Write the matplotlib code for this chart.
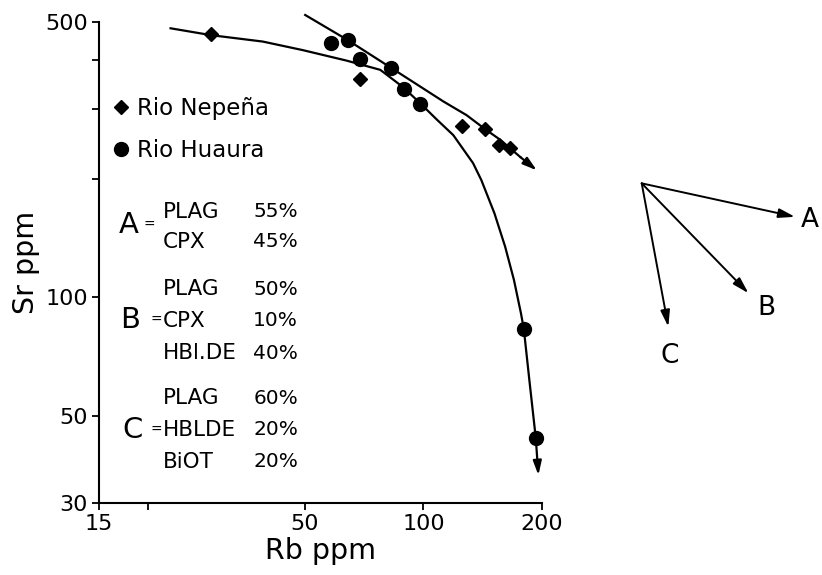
import matplotlib
matplotlib.use('Agg')
import matplotlib.pyplot as plt
from matplotlib.lines import Line2D

plt.rcParams['font.family'] = ['DejaVu Sans']

# Rio Nepeña (diamonds)
nepena_rb = [28.8, 69.0, 125.1, 143.6, 155.7, 165.5]
nepena_sr = [466, 358, 272, 267, 244, 239]

# Rio Huaura (circles)
huaura_rb = [58.2, 64.2, 69.1, 82.6, 89.4, 98.1, 179.9, 192.9]
huaura_sr = [441, 450, 403, 383, 338, 309, 83.0, 43.9]

# curved trend (flat at left, bending down to the arrow at the bottom)
curve1_rb = [22.8, 28.9, 39.1, 49.5, 63.8, 77.7, 89.0, 98.1, 108.0, 119.1,
             133.7, 140.3, 151.5, 161.3, 169.8, 176.9, 179.9, 185.8, 192.9, 195.9]
curve1_sr = [482, 463, 446, 424, 399, 378, 341, 311, 283, 258,
             219, 198.4, 163.3, 134.3, 110.6, 91.0, 83.0, 61.6, 43.9, 35.3]

# nearly straight trend through the Nepeña samples
curve2_rb = [50.1, 64.2, 82.6, 112.5, 128.7, 143.6, 156.8, 176.2, 194.1]
curve2_sr = [521, 450, 383, 314, 290, 267, 251, 227, 210]

xticks = [15, 20, 50, 100, 200]
xticklabels = ['15', '', '50', '100', '200']
yticks = [30, 50, 100, 200, 300, 400, 500]
yticklabels = ['30', '50', '100', '', '', '', '500']

# mineral assemblages
assemblages = {
    'A': [('PLAG', '55%'), ('CPX', '45%')],
    'B': [('PLAG', '50%'), ('CPX', '10%'), ('HBl.DE', '40%')],
    'C': [('PLAG', '60%'), ('HBLDE', '20%'), ('BiOT', '20%')],
}

# vector diagram (decades of log Rb / log Sr)
vec_names = ['A', 'B', 'C']
vec_drb = [0.392, 0.273, 0.068]
vec_dsr = [-0.085, -0.279, -0.364]
vec_label_off = [(11, -2), (13, -11), (1, -21)]

fig = plt.figure(figsize=(8.22, 5.75), dpi=100)
ax = fig.add_axes([0.1204, 0.1252, 0.5389, 0.8365])
ax.set_xscale('log')
ax.set_yscale('log')
ax.set_xlim(15, 200)
ax.set_ylim(30, 500)

lw = 1.6
arrow = dict(arrowstyle='-|>,head_length=0.6,head_width=0.18', color='black',
             lw=lw, shrinkA=0, shrinkB=0, mutation_scale=14)
ax.plot(curve1_rb[:-1], curve1_sr[:-1], color='black', lw=lw, clip_on=False,
        solid_joinstyle='round')
ax.annotate('', xy=(curve1_rb[-1], curve1_sr[-1]), xytext=(curve1_rb[-2], curve1_sr[-2]),
            arrowprops=arrow, annotation_clip=False)
ax.plot(curve2_rb[:-1], curve2_sr[:-1], color='black', lw=lw, clip_on=False,
        solid_joinstyle='round')
ax.annotate('', xy=(curve2_rb[-1], curve2_sr[-1]), xytext=(curve2_rb[-2], curve2_sr[-2]),
            arrowprops=arrow, annotation_clip=False)

ax.plot(nepena_rb, nepena_sr, 'D', color='black', ms=7.5, clip_on=False)
ax.plot(huaura_rb, huaura_sr, 'o', color='black', ms=10, clip_on=False)

ax.set_xticks(xticks)
ax.set_xticklabels(xticklabels)
ax.set_yticks(yticks)
ax.set_yticklabels(yticklabels)
ax.minorticks_off()
ax.tick_params(direction='out', length=5, width=1.3, labelsize=16, pad=3)
for s in ['top', 'right']:
    ax.spines[s].set_visible(False)
for s in ['left', 'bottom']:
    ax.spines[s].set_linewidth(1.5)

ax.set_xlabel('Rb ppm', fontsize=20.5, labelpad=2)
ax.set_ylabel('Sr ppm', fontsize=20.5, labelpad=4)

handles = [Line2D([], [], marker='D', color='black', ls='none', ms=7.5),
           Line2D([], [], marker='o', color='black', ls='none', ms=10)]
ax.legend(handles, ['Rio Nepeña', 'Rio Huaura'], loc='upper left',
          bbox_to_anchor=(0.031, 0.845), frameon=False, fontsize=16.5,
          handlelength=0.75, handletextpad=0.3, borderpad=0, borderaxespad=0,
          labelspacing=0.85)

# assemblage text block (axes fraction positions)
letter_pos = {'A': (0.0677, 0.578), 'B': (0.070, 0.3805), 'C': (0.0756, 0.1518)}
eq_x = {'A': 0.1129, 'B': 0.1287, 'C': 0.1302}
row_y = {'A': [0.6056, 0.5432], 'B': [0.4449, 0.379, 0.3112], 'C': [0.2177, 0.1518, 0.0859]}
for key, rows in assemblages.items():
    lx, ly = letter_pos[key]
    ax.text(lx, ly, key, transform=ax.transAxes, fontsize=21, ha='center', va='center')
    ax.text(eq_x[key], ly, '=', transform=ax.transAxes, fontsize=10, ha='center', va='center')
    for (name, pct), y in zip(rows, row_y[key]):
        ax.text(0.1438, y, name, transform=ax.transAxes, fontsize=15.5, ha='left', va='center')
        ax.text(0.3483, y, pct, transform=ax.transAxes, fontsize=14.5, ha='left', va='center')

# vector diagram
vax = fig.add_axes([0.7664, 0.3565, 0.2336, 0.3478])
vax.set_xlim(-0.03, 0.461)
vax.set_ylim(-0.474, 0.0338)
vax.axis('off')
for name, dx, dy, off in zip(vec_names, vec_drb, vec_dsr, vec_label_off):
    vax.annotate('', xy=(dx, dy), xytext=(0, 0),
                 arrowprops=dict(arrowstyle='-|>,head_length=0.7,head_width=0.2', color='black',
                                 lw=1.4, shrinkA=0, shrinkB=0, mutation_scale=14),
                 annotation_clip=False)
    vax.annotate(name, xy=(dx, dy), xytext=off, textcoords='offset points',
                 fontsize=19, ha='center', va='center', annotation_clip=False)

fig.savefig('out.png', dpi=100, facecolor='white')
